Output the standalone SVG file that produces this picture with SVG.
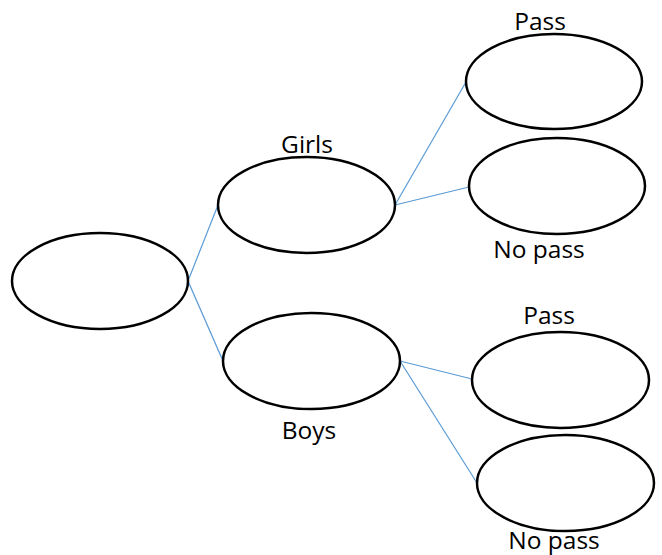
<svg xmlns="http://www.w3.org/2000/svg" width="662" height="555" viewBox="0 0 662 555">
<style>
.node{fill:#fff;stroke:#000;stroke-width:2.5}
.edge{stroke:#5B9BD5;stroke-width:1.2;fill:none}
.lbl{font-family:"Open Sans","Liberation Sans",sans-serif;font-size:24.5px;fill:#000;text-anchor:middle}
</style>
<rect width="662" height="555" fill="#fff"/>
<g id="connectors">
<line class="edge" x1="188" y1="281" x2="218" y2="205"/>
<line class="edge" x1="188" y1="281" x2="223" y2="361"/>
<line class="edge" x1="395" y1="205" x2="466" y2="82"/>
<line class="edge" x1="395" y1="205" x2="469" y2="187"/>
<line class="edge" x1="400" y1="361" x2="472" y2="379"/>
<line class="edge" x1="400" y1="361" x2="477" y2="483"/>
</g>
<g id="root"><ellipse class="node" cx="100" cy="281" rx="88" ry="48"/></g>
<g id="girls"><ellipse class="node" cx="306.5" cy="205" rx="88.5" ry="48"/><text class="lbl" x="307" y="153">Girls</text></g>
<g id="boys"><ellipse class="node" cx="311.5" cy="361" rx="88.5" ry="48"/><text class="lbl" x="309" y="439">Boys</text></g>
<g id="girls-pass"><ellipse class="node" cx="554" cy="81.5" rx="88" ry="47.5"/><text class="lbl" x="540" y="30">Pass</text></g>
<g id="girls-nopass"><ellipse class="node" cx="557" cy="186" rx="88" ry="48"/><text class="lbl" x="539" y="258">No pass</text></g>
<g id="boys-pass"><ellipse class="node" cx="560.5" cy="380" rx="88.5" ry="48"/><text class="lbl" x="549" y="324">Pass</text></g>
<g id="boys-nopass"><ellipse class="node" cx="565.5" cy="483" rx="88.5" ry="48"/><text class="lbl" x="554" y="549">No pass</text></g>
</svg>
